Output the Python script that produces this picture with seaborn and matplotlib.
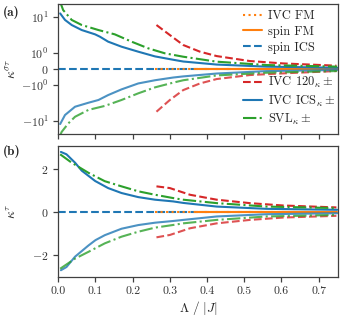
import numpy as np
import pandas as pd
import matplotlib
matplotlib.use("Agg")
import matplotlib.pyplot as plt
import seaborn as sns
from matplotlib.ticker import FixedLocator

# ---------------- data ----------------
# panel (a): kappa^{sigma tau}
a_ics_up_x = [0.005, 0.018, 0.036, 0.063, 0.099, 0.112, 0.134, 0.17, 0.215, 0.26, 0.309, 0.336, 0.426, 0.56, 0.75]
a_ics_up_y = [12.6, 8.3, 6.0, 4.35, 3.3, 2.84, 2.07, 1.5, 1.09, 0.79, 0.58, 0.47, 0.28, 0.15, 0.08]
a_ics_lo_x = [0.005, 0.018, 0.045, 0.081, 0.108, 0.134, 0.17, 0.215, 0.26, 0.309, 0.336, 0.426, 0.56, 0.75]
a_ics_lo_y = [-12.1, -6.8, -4.0, -3.1, -2.6, -1.9, -1.32, -0.9, -0.7, -0.53, -0.46, -0.28, -0.13, -0.06]
a_svl_up_x = [0.003, 0.013, 0.036, 0.063, 0.108, 0.152, 0.197, 0.242, 0.287, 0.336, 0.426, 0.56, 0.75]
a_svl_up_y = [30.0, 15.6, 8.3, 6.0, 4.35, 3.3, 2.07, 1.35, 0.98, 0.77, 0.46, 0.25, 0.15]
a_svl_lo_x = [0.003, 0.009, 0.027, 0.045, 0.081, 0.125, 0.17, 0.215, 0.26, 0.309, 0.336, 0.426, 0.56, 0.75]
a_svl_lo_y = [-28.0, -20.0, -11.6, -7.6, -4.9, -3.8, -2.6, -1.7, -1.16, -0.85, -0.7, -0.4, -0.23, -0.125]
a_120_x = [0.264, 0.30, 0.336, 0.381, 0.426, 0.515, 0.605, 0.748]
a_120_up_y = [6.0, 3.16, 1.67, 1.09, 0.81, 0.5, 0.35, 0.21]
a_120_lo_y = [-5.5, -2.6, -1.38, -0.9, -0.625, -0.375, -0.27, -0.125]

# panel (b): kappa^{tau}
b_ics_up_x = [0.007, 0.022, 0.045, 0.063, 0.099, 0.134, 0.17, 0.215, 0.26, 0.309, 0.336, 0.426, 0.56, 0.75]
b_ics_up_y = [2.77, 2.66, 2.27, 1.9, 1.42, 1.09, 0.86, 0.67, 0.55, 0.47, 0.40, 0.23, 0.125, 0.08]
b_ics_lo_x = [0.007, 0.022, 0.045, 0.081, 0.10, 0.125, 0.17, 0.215, 0.26, 0.309, 0.336, 0.426, 0.56, 0.75]
b_ics_lo_y = [-2.73, -2.58, -2.1, -1.58, -1.33, -1.1, -0.8, -0.63, -0.52, -0.44, -0.39, -0.23, -0.125, -0.08]
b_svl_x = [0.005, 0.036, 0.081, 0.125, 0.17, 0.215, 0.26, 0.309, 0.336, 0.426, 0.56, 0.75]
b_svl_up_y = [2.66, 2.27, 1.8, 1.41, 1.17, 0.94, 0.78, 0.625, 0.55, 0.39, 0.23, 0.16]
b_svl_lo_x = [0.005, 0.045, 0.081, 0.125, 0.17, 0.215, 0.26, 0.309, 0.336, 0.426, 0.56, 0.75]
b_svl_lo_y = [-2.66, -2.19, -1.875, -1.48, -1.17, -0.94, -0.75, -0.625, -0.55, -0.39, -0.23, -0.16]
b_120_x = [0.264, 0.30, 0.354, 0.426, 0.515, 0.605, 0.748]
b_120_up_y = [1.17, 1.09, 0.78, 0.55, 0.39, 0.28, 0.19]
b_120_lo_y = [-1.2, -1.09, -0.78, -0.55, -0.39, -0.28, -0.2]

# zero-valued states
spin_ics_x = [0.0, 0.75]
spin_ics_y = [0.0, 0.0]
ivc_fm_x = [0.26, 0.75]
ivc_fm_y = [0.0, 0.0]
spin_fm_x = [0.37, 0.75]
spin_fm_y = [0.0, 0.0]

x_ticks = [0.0, 0.1, 0.2, 0.3, 0.4, 0.5, 0.6, 0.7]
a_yticks = [-10, -1, 0, 1, 10]
b_yticks = [-2, 0, 2]

# ---------------- style ----------------
sns.set_theme(style="ticks")
plt.rcParams.update({
    "font.family": "serif",
    "font.serif": ["cmr10", "DejaVu Serif"],
    "mathtext.fontset": "cm",
    "axes.formatter.use_mathtext": True,
    "font.size": 9,
    "axes.labelsize": 9.5,
    "xtick.labelsize": 8.5,
    "ytick.labelsize": 8.5,
    "legend.fontsize": 9,
    "axes.edgecolor": "0.25",
    "axes.linewidth": 0.9,
    "xtick.color": "0.25",
    "ytick.color": "0.25",
    "xtick.labelcolor": "0.2",
    "ytick.labelcolor": "0.2",
    "xtick.major.size": 3.5,
    "ytick.major.size": 3.5,
    "xtick.major.width": 0.9,
    "ytick.major.width": 0.9,
    "xtick.direction": "out",
    "ytick.direction": "out",
})

blue, orange, green, red = "#1f77b4", "#ff7f0e", "#2ca02c", "#d62728"
LW = 1.5
LO_ALPHA = 0.8

fig = plt.figure(figsize=(3.42, 3.2), dpi=100)
ax1 = fig.add_axes([0.1705, 0.581, 0.8175, 0.4065])
ax2 = fig.add_axes([0.1705, 0.134, 0.8175, 0.410])


def line(ax, x, y, color, ls, label=None, alpha=1.0):
    sns.lineplot(x=x, y=y, ax=ax, color=color, linestyle=ls, lw=LW,
                 label=label, alpha=alpha, legend=False, estimator=None, sort=True)


def draw(ax, d, with_labels):
    line(ax, spin_ics_x, spin_ics_y, blue, "--", "spin ICS" if with_labels else None)
    line(ax, ivc_fm_x, ivc_fm_y, orange, ":", "IVC FM" if with_labels else None)
    line(ax, spin_fm_x, spin_fm_y, orange, "-", "spin FM" if with_labels else None)
    line(ax, d["120x"], d["120up"], red, "--", r"IVC 120$_{\kappa}\pm$" if with_labels else None)
    line(ax, d["120x"], d["120lo"], red, "--", alpha=LO_ALPHA)
    line(ax, d["icsupx"], d["icsup"], blue, "-", r"IVC ICS$_{\kappa}\pm$" if with_labels else None)
    line(ax, d["icslox"], d["icslo"], blue, "-", alpha=LO_ALPHA)
    line(ax, d["svlupx"], d["svlup"], green, "-.", r"SVL$_{\kappa}\pm$" if with_labels else None)
    line(ax, d["svllox"], d["svllo"], green, "-.", alpha=LO_ALPHA)


da = dict(icsupx=a_ics_up_x, icsup=a_ics_up_y, icslox=a_ics_lo_x, icslo=a_ics_lo_y,
          svlupx=a_svl_up_x, svlup=a_svl_up_y, svllox=a_svl_lo_x, svllo=a_svl_lo_y,
          **{"120x": a_120_x, "120up": a_120_up_y, "120lo": a_120_lo_y})
db = dict(icsupx=b_ics_up_x, icsup=b_ics_up_y, icslox=b_ics_lo_x, icslo=b_ics_lo_y,
          svlupx=b_svl_x, svlup=b_svl_up_y, svllox=b_svl_lo_x, svllo=b_svl_lo_y,
          **{"120x": b_120_x, "120up": b_120_up_y, "120lo": b_120_lo_y})

draw(ax1, da, True)
draw(ax2, db, False)

ax1.set_yscale("symlog", linthresh=1, linscale=0.4)
ax1.set_ylim(-23, 23)
ax1.yaxis.set_major_locator(FixedLocator(a_yticks))
ax1.yaxis.set_minor_locator(FixedLocator([]))
ax2.set_ylim(-3.05, 3.05)
ax2.set_yticks(b_yticks)

for ax in (ax1, ax2):
    ax.set_xlim(0, 0.752)
    ax.set_xticks(x_ticks)
    for s in ax.spines.values():
        s.set_visible(True)
ax1.tick_params(labelbottom=False)
ax2.set_xticklabels([f"{t:.1f}" for t in x_ticks])

ax1.set_ylabel(r"$\kappa^{\sigma\tau}$")
ax2.set_ylabel(r"$\kappa^{\tau}$")
ax1.yaxis.set_label_coords(-0.14, 0.5)
ax2.yaxis.set_label_coords(-0.14, 0.5)
ax2.set_xlabel(r"$\Lambda\ /\ |J|$", labelpad=2)

fig.text(0.008, 0.962, "(a)", fontsize=9.5, family=["cmb10", "DejaVu Serif"], va="center")
fig.text(0.008, 0.528, "(b)", fontsize=9.5, family=["cmb10", "DejaVu Serif"], va="center")

# legends
h, l = ax1.get_legend_handles_labels()
hd = dict(zip(l, h))
top_labels = ["IVC FM", "spin FM", "spin ICS"]
bot_labels = [r"IVC 120$_{\kappa}\pm$", r"IVC ICS$_{\kappa}\pm$", r"SVL$_{\kappa}\pm$"]
common = dict(frameon=False, handlelength=1.55, handletextpad=0.45,
              borderpad=0.0, borderaxespad=0.0)
leg1 = ax1.legend([hd[k] for k in top_labels], top_labels, loc="upper left",
                  labelspacing=0.3, bbox_to_anchor=(0.66, 0.955), **common)
ax1.add_artist(leg1)
ax1.legend([hd[k] for k in bot_labels], bot_labels, loc="lower left",
           labelspacing=0.25, bbox_to_anchor=(0.66, 0.055), **common)

fig.savefig("out.png", dpi=100)
